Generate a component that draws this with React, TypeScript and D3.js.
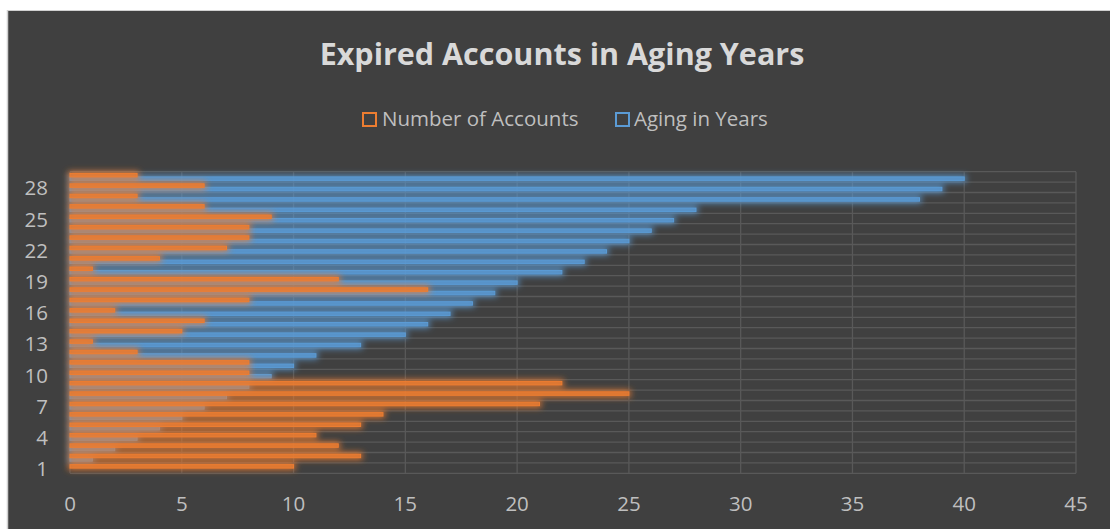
import React from "react";
import * as d3 from "d3";

// Category numbers (bottom to top) and the two series
const categories: number[] = d3.range(1, 30);
const numberOfAccounts: number[] = [
  10, 13, 12, 11, 13, 14, 21, 25, 22, 8, 8, 3, 1, 5, 6, 2, 8, 16, 12, 1, 4, 7, 8, 8, 9, 6, 3, 6, 3,
];
const agingInYears: number[] = [
  0, 1, 2, 3, 4, 5, 6, 7, 8, 9, 10, 11, 13, 15, 16, 17, 18, 19, 20, 22, 23, 24, 25, 26, 27, 28, 38, 39, 40,
];
const xTicks: number[] = [0, 5, 10, 15, 20, 25, 30, 35, 40, 45];
const yTickLabels: number[] = [1, 4, 7, 10, 13, 16, 19, 22, 25, 28];

const W = 1110;
const H = 529;
const ORANGE = "#ED7D31";
const BLUE = "#5B9BD5";
const FONT = "'Open Sans', 'DejaVu Sans', sans-serif";

export default function App() {
  const plot = { left: 70, right: 1076, top: 171.7, bottom: 473.3 };

  const x = d3.scaleLinear().domain([0, 45]).range([plot.left, plot.right]);
  const y = d3
    .scaleBand<number>()
    .domain(categories.slice().reverse())
    .range([plot.top, plot.bottom])
    .padding(0);
  const inner = d3
    .scaleBand<string>()
    .domain(["accounts", "aging"])
    .range([0, y.bandwidth()])
    .paddingInner(0)
    .paddingOuter(0.5);

  const series = [
    { key: "aging", color: BLUE, values: agingInYears, glow: "glowBlue" },
    { key: "accounts", color: ORANGE, values: numberOfAccounts, glow: "glowOrange" },
  ];

  const gridColor = "#595959";

  return (
    <div style={{ position: "absolute", left: 0, top: 0 }}>
      <svg width={W} height={H} style={{ display: "block" }}>
        <defs>
          {series.map((s) => (
            <filter
              key={s.glow}
              id={s.glow}
              filterUnits="userSpaceOnUse"
              x={0}
              y={140}
              width={W}
              height={370}
            >
              <feMorphology in="SourceAlpha" operator="dilate" radius="2" result="d" />
              <feGaussianBlur in="d" stdDeviation="3.2" result="b" />
              <feFlood floodColor={s.color} floodOpacity="0.85" />
              <feComposite in2="b" operator="in" />
            </filter>
          ))}
        </defs>
        <rect x={0} y={0} width={W} height={H} fill="#ffffff" />
        <rect x={7} y={10} width={W - 7} height={H - 10} fill="#404040" />
        <line x1={7} y1={10.5} x2={W} y2={10.5} stroke="#d0d0d0" strokeWidth={1} />
        <line x1={7.5} y1={10} x2={7.5} y2={H} stroke="#d0d0d0" strokeWidth={1.5} />

        {/* Title */}
        <text
          x={562}
          y={65}
          textAnchor="middle"
          fontFamily={FONT}
          fontWeight="bold"
          fontSize={30.5}
          fill="#d9d9d9"
        >
          Expired Accounts in Aging Years
        </text>

        {/* Legend */}
        <g fontFamily={FONT} fontSize={20.5} fill="#bfbfbf">
          <rect x={363} y={113} width={13} height={13} fill="none" stroke={ORANGE} strokeWidth={2} />
          <text x={382} y={126}>Number of Accounts</text>
          <rect x={616} y={113} width={13} height={13} fill="none" stroke={BLUE} strokeWidth={2} />
          <text x={634} y={126}>Aging in Years</text>
        </g>

        {/* Gridlines */}
        <g stroke={gridColor} strokeWidth={1.3}>
          {xTicks.map((t) => (
            <line key={"v" + t} x1={x(t)} x2={x(t)} y1={plot.top} y2={plot.bottom} />
          ))}
          {categories.map((c) => (
            <line key={"h" + c} x1={plot.left} x2={plot.right} y1={y(c)!} y2={y(c)!} />
          ))}
          <line x1={plot.left} x2={plot.right} y1={plot.bottom} y2={plot.bottom} />
        </g>

        {/* Bars: glow layer then bars for each series */}
        {series.map((s) => (
          <g key={s.key}>
            <g filter={`url(#${s.glow})`}>
              {categories.map((c, i) => (
                <rect
                  key={c}
                  x={x(0)}
                  y={y(c)! + inner(s.key)!}
                  width={Math.max(0, x(s.values[i]) - x(0))}
                  height={inner.bandwidth()}
                  fill={s.color}
                />
              ))}
            </g>
            <g>
              {categories.map((c, i) =>
                s.values[i] > 0 ? (
                  <rect
                    key={c}
                    x={x(0)}
                    y={y(c)! + inner(s.key)!}
                    width={x(s.values[i]) - x(0)}
                    height={inner.bandwidth()}
                    fill={s.color}
                    fillOpacity={0.75}
                    stroke={s.color}
                    strokeWidth={1}
                  />
                ) : null
              )}
            </g>
          </g>
        ))}

        {/* Axis labels */}
        <g fontFamily={FONT} fontSize={20.5} fill="#bfbfbf">
          {yTickLabels.map((c) => (
            <text key={c} x={48} y={y(c)! + y.bandwidth() / 2} textAnchor="end" dominantBaseline="central">
              {c}
            </text>
          ))}
          {xTicks.map((t) => (
            <text key={t} x={x(t)} y={511} textAnchor="middle">
              {t}
            </text>
          ))}
        </g>
      </svg>
    </div>
  );
}
